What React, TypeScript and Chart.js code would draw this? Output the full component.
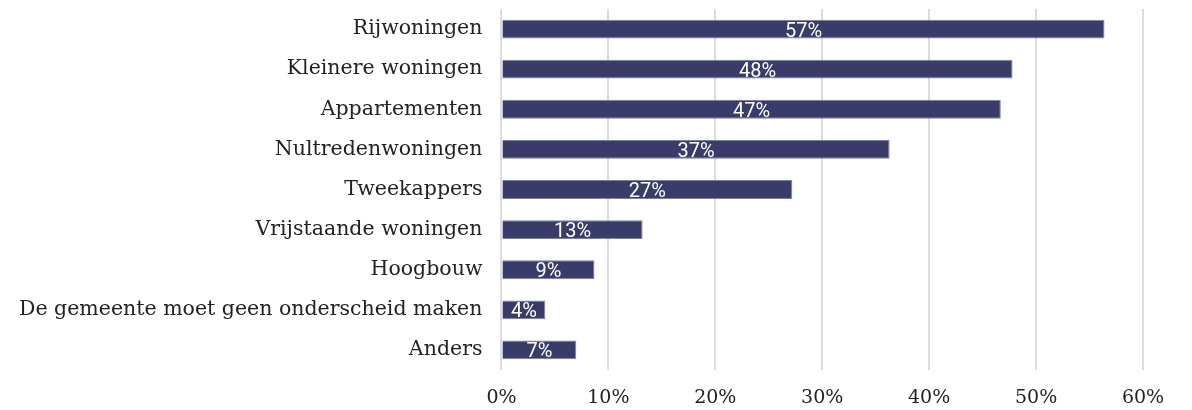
import React, { useEffect, useRef } from "react";
import { Chart, registerables } from "chart.js";

Chart.register(...registerables);

const categories = [
  "Rijwoningen",
  "Kleinere woningen",
  "Appartementen",
  "Nultredenwoningen",
  "Tweekappers",
  "Vrijstaande woningen",
  "Hoogbouw",
  "De gemeente moet geen onderscheid maken",
  "Anders",
];
const values = [56.4, 47.8, 46.7, 36.3, 27.2, 13.2, 8.7, 4.1, 7.0];
const valueLabels = ["57%", "48%", "47%", "37%", "27%", "13%", "9%", "4%", "7%"];
const xTicks = [0, 10, 20, 30, 40, 50, 60];

const barLabelPlugin = {
  id: "barLabels",
  afterDatasetsDraw(chart: any) {
    const ctx = chart.ctx;
    const meta = chart.getDatasetMeta(0);
    ctx.save();
    ctx.fillStyle = "#ffffff";
    ctx.font = "20px Roboto";
    ctx.textAlign = "center";
    ctx.textBaseline = "alphabetic";
    meta.data.forEach((bar: any, i: number) => {
      const cx = (bar.x + bar.base) / 2;
      ctx.fillText(valueLabels[i], cx, bar.y + 7.5);
    });
    ctx.restore();
  },
};

export default function App() {
  const ref = useRef<HTMLCanvasElement | null>(null);
  useEffect(() => {
    document.body.style.margin = "0";
    const chart = new Chart(ref.current as HTMLCanvasElement, {
      type: "bar",
      data: {
        labels: categories,
        datasets: [
          {
            data: values,
            backgroundColor: "#393c69",
            borderColor: "#7d7fa3",
            borderWidth: 1,
            categoryPercentage: 1,
            barPercentage: 0.47,
          },
        ],
      },
      options: {
        indexAxis: "y",
        animation: false,
        responsive: false,
        maintainAspectRatio: false,
        layout: { padding: { top: 9, right: 49, bottom: 0, left: 0 } },
        plugins: { legend: { display: false }, tooltip: { enabled: false } },
        scales: {
          x: {
            min: 0,
            max: 60,
            afterBuildTicks: (axis: any) => {
              axis.ticks = xTicks.map((v) => ({ value: v }));
            },
            afterFit: (axis: any) => {
              axis.height = 40;
            },
            ticks: {
              callback: (v: any) => v + "%",
              color: "#222222",
              font: { family: "DejaVu Serif", size: 19 },
              padding: 16.6,
              maxRotation: 0,
            },
            grid: { color: "#dcdcdc", lineWidth: 2, drawTicks: false },
            border: { display: false },
          },
          y: {
            afterFit: (axis: any) => {
              axis.paddingTop = 0;
              axis.paddingBottom = 0;
            },
            ticks: {
              color: "#222222",
              font: { family: "DejaVu Serif", size: 20.5 },
              padding: 19,
            },
            grid: { display: false, drawTicks: false },
            border: { display: false },
          },
        },
      },
      plugins: [barLabelPlugin],
    });
    return () => chart.destroy();
  }, []);
  return <canvas ref={ref} width={1192} height={410} style={{ display: "block" }} />;
}
